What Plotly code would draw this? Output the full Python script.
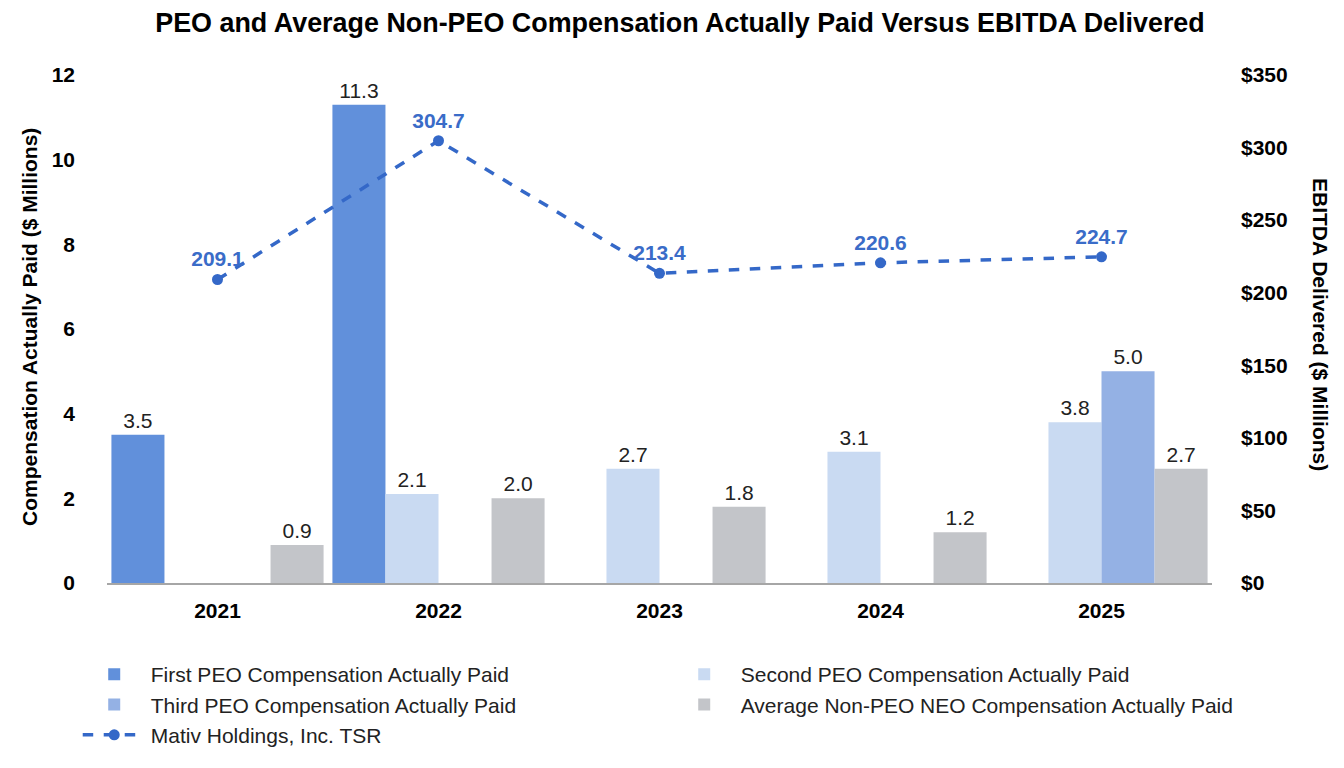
import plotly.graph_objects as go

years = ["2021", "2022", "2023", "2024", "2025"]
first_peo = [3.5, 11.3, None, None, None]
second_peo = [None, 2.1, 2.7, 3.1, 3.8]
third_peo = [None, None, None, None, 5.0]
non_peo = [0.9, 2.0, 1.8, 1.2, 2.7]
ebitda = [209.1, 304.7, 213.4, 220.6, 224.7]

FONT = "Liberation Sans, Arial, sans-serif"
FS = 21

def lbl(vals):
    return [("%.1f" % v) if v is not None else "" for v in vals]

fig = go.Figure()
bar_specs = [
    ("First PEO Compensation Actually Paid", first_peo, "#6190db"),
    ("Second PEO Compensation Actually Paid", second_peo, "#c9daf2"),
    ("Third PEO Compensation Actually Paid", third_peo, "#94b1e4"),
    ("Average Non-PEO NEO Compensation Actually Paid", non_peo, "#c3c5c9"),
]
for name, vals, col in bar_specs:
    fig.add_trace(go.Bar(
        x=years, y=vals, name=name, marker=dict(color=col, line=dict(width=0)),
        text=lbl(vals), textposition="outside", cliponaxis=False,
        textfont=dict(family=FONT, size=FS, color="#222222"),
    ))

fig.add_trace(go.Scatter(
    x=years, y=ebitda, name="Mativ Holdings, Inc. TSR", yaxis="y2",
    mode="lines+markers+text", text=["%.1f" % v for v in ebitda],
    textposition="top center", cliponaxis=False,
    textfont=dict(family=FONT, size=FS, color="#3a6cc8", weight="bold"),
    line=dict(color="#3468c8", width=3.5, dash="dash"),
    marker=dict(color="#3468c8", size=11),
))

fig.update_layout(
    width=1344, height=768,
    paper_bgcolor="white", plot_bgcolor="white",
    barmode="group", bargap=0.04, bargroupgap=0,
    margin=dict(l=99, r=140, t=67, b=193, autoexpand=False),
    font=dict(family=FONT, color="#000000"),
    title=dict(text="<b>PEO and Average Non-PEO Compensation Actually Paid Versus EBITDA Delivered</b>",
               x=0.5, xanchor="center", y=0.9805, yanchor="middle",
               font=dict(family=FONT, size=26.9, color="#000000")),
    xaxis=dict(showgrid=False, showline=True, linecolor="#a6a6a6", linewidth=2,
               ticks="", tickfont=dict(family=FONT, size=FS, weight="bold"),
               ticklabelstandoff=8, automargin=False),
    yaxis=dict(range=[0, 12], dtick=2, showgrid=False, zeroline=False,
               tickfont=dict(family=FONT, size=FS, weight="bold"),
               ticklabelstandoff=31, automargin=False),
    yaxis2=dict(range=[0, 350], dtick=50, overlaying="y", side="right",
                showgrid=False, zeroline=False, tickprefix="$",
                tickfont=dict(family=FONT, size=FS, weight="bold"),
                ticklabelstandoff=28, automargin=False),
    legend=dict(orientation="h", x=-0.0265, xanchor="left", y=-0.140, yanchor="top",
                entrywidth=512, entrywidthmode="pixels",
                font=dict(family=FONT, size=FS, color="#222222"),
                itemwidth=63),
    showlegend=True,
    annotations=[
        dict(text="<b>Compensation Actually Paid ($ Millions)</b>", xref="paper", yref="paper",
             x=-0.0697, y=0.504, textangle=-90, showarrow=False,
             xanchor="center", yanchor="middle", font=dict(family=FONT, size=FS, color="#000000")),
        dict(text="<b>EBITDA Delivered ($ Millions)</b>", xref="paper", yref="paper",
             x=1.0977, y=0.508, textangle=90, showarrow=False,
             xanchor="center", yanchor="middle", font=dict(family=FONT, size=FS, color="#000000")),
    ],
)

fig.write_html("out.html")
